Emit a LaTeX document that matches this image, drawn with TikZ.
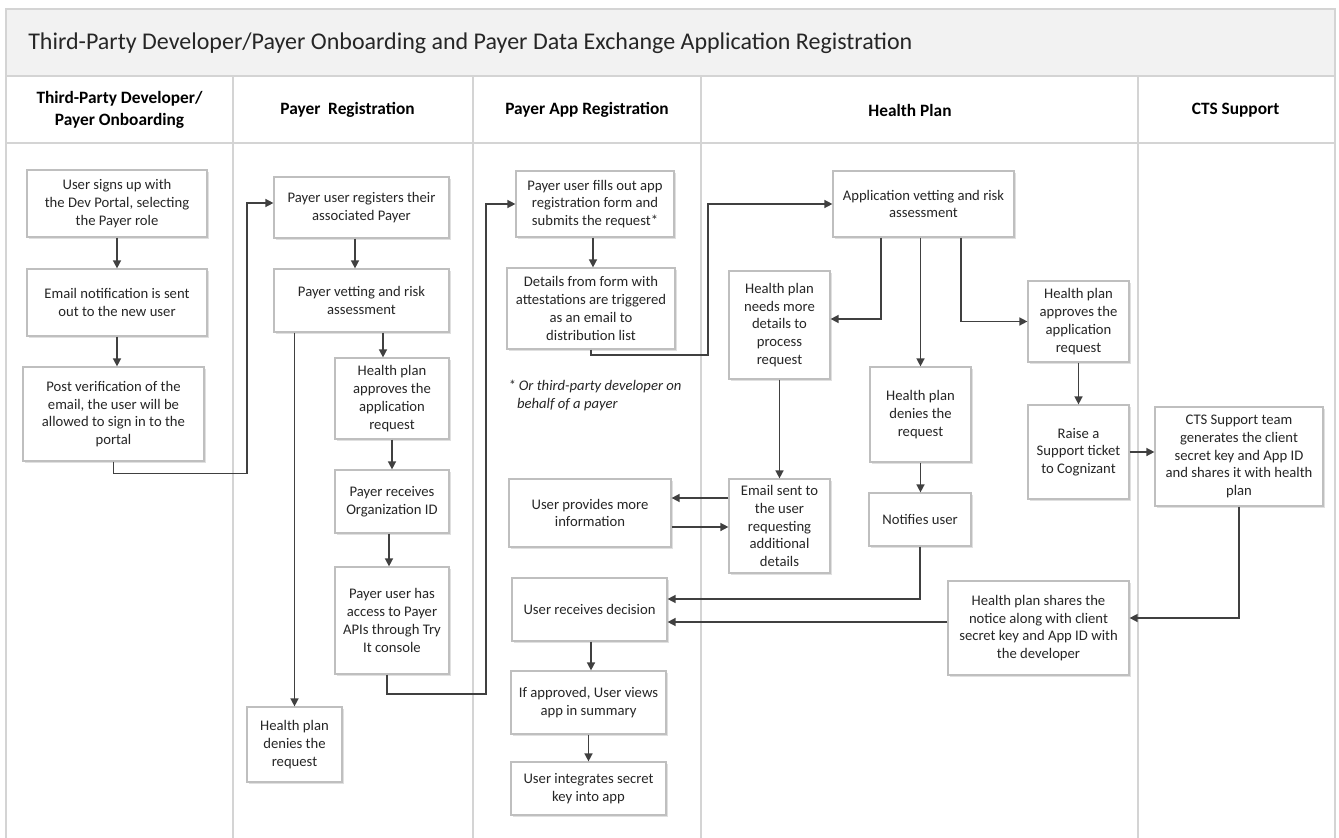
\documentclass[tikz,border=0pt]{standalone}
\usepackage{fontspec}
\setmainfont{Carlito}
\usetikzlibrary{arrows.meta}
\usetikzlibrary{shadows}

\definecolor{lanegray}{HTML}{D4D4D4}
\definecolor{boxgray}{HTML}{BFBFBF}
\definecolor{titlefill}{HTML}{F2F2F2}
\definecolor{linkgray}{HTML}{404040}
\definecolor{textgray}{HTML}{262626}

\begin{document}
\begin{tikzpicture}[x=0.75pt, y=-0.75pt,
    box/.style 2 args={draw=boxgray, fill=white, line width=0.9pt, align=center, inner sep=0pt,
        minimum width=#1*0.75pt, minimum height=#2*0.75pt, text=textgray,
        font=\fontsize{11}{13.3}\selectfont,
        drop shadow={shadow xshift=1.2pt, shadow yshift=-1.2pt, fill=black, opacity=0.12}},
    link/.style={draw=linkgray, line width=1.1pt, -{Triangle[length=6pt, width=6pt]}},
    lane/.style={draw=lanegray, line width=1.5pt},
    lanehead/.style={font=\fontsize{13}{16.5}\selectfont\bfseries, align=center, text=black}]

    \useasboundingbox (0,0) rectangle (1339,838);

    % swimlane frame
    \fill[titlefill] (6,9) rectangle (1335,76);
    \draw[lane] (6,838) -- (6,9) -- (1335,9) -- (1335,838);
    \draw[lane] (6,76) -- (1335,76);
    \draw[lane] (6,143) -- (1335,143);
    \foreach \x in {233,473,701,1138}
        \draw[lane] (\x,76) -- (\x,838);

    \node[anchor=west, inner sep=0pt, font=\fontsize{18}{21}\selectfont, text=textgray] (title) at (28,43)
        {Third-Party Developer/Payer Onboarding and Payer Data Exchange Application Registration};

    \node[lanehead] (h1) at (119.5,110) {Third-Party Developer/\\Payer Onboarding};
    \node[lanehead] (h2) at (347.5,110) {Payer\ \ Registration};
    \node[lanehead] (h3) at (587,110) {Payer App Registration};
    \node[lanehead] (h4) at (910,110) {Health Plan};
    \node[lanehead] (h5) at (1235.5,110) {CTS Support};

    % onboarding
    \node[box={180}{67}] (a1) at (117,203.5) {User signs up with\\the Dev Portal, selecting\\the Payer role};
    \node[box={180}{67}] (a2) at (117,302.5) {Email notification is sent\\out to the new user};
    \node[box={181}{94}] (a3) at (113.5,414) {Post verification of the\\email, the user will be\\allowed to sign in to the\\portal};

    % payer registration
    \node[box={175}{61}] (b1) at (361.5,207.5) {Payer user registers their\\associated Payer};
    \node[box={175}{63}] (b2) at (361.5,300.5) {Payer vetting and risk\\assessment};
    \node[box={114}{81}] (b3) at (392,398.5) {Health plan\\approves the\\application\\request};
    \node[box={114}{63}] (b4) at (392,501.5) {Payer receives\\Organization ID};
    \node[box={114}{107}] (b5) at (392,620.5) {Payer user has\\access to Payer\\APIs through Try\\It console};
    \node[box={95}{75}] (bd) at (294.5,744.5) {Health plan\\denies the\\request};

    % payer app registration
    \node[box={158}{66}] (c1) at (595,204) {Payer user fills out app\\registration form and\\submits the request*};
    \node[box={168}{81}] (c2) at (591,308.5) {Details from form with\\attestations are triggered\\as an email to\\distribution list};
    \node[anchor=north west, align=left, inner sep=0pt, text=textgray, font=\fontsize{11}{13.3}\selectfont\itshape] (note) at (508,380)
        {* Or third-party developer on\\\hspace{0.6em}behalf of a payer};
    \node[box={162}{68}] (c3) at (590,513) {User provides more\\information};
    \node[box={155}{63}] (c4) at (589.5,609.5) {User receives decision};
    \node[box={155}{63}] (c5) at (588.5,702.5) {If approved, User views\\app in summary};
    \node[box={155}{53}] (c6) at (588.5,788.5) {User integrates secret\\key into app};

    % health plan
    \node[box={181}{66}] (d1) at (923.5,204) {Application vetting and risk\\assessment};
    \node[box={101}{108}] (d2) at (779.5,325) {Health plan\\needs more\\details to\\process\\request};
    \node[box={101}{95}] (d3) at (920.5,414.5) {Health plan\\denies the\\request};
    \node[box={101}{81}] (d4) at (1078.5,321.5) {Health plan\\approves the\\application\\request};
    \node[box={101}{94}] (d5) at (1078.5,452) {Raise a\\Support ticket\\to Cognizant};
    \node[box={101}{94}] (de) at (779.5,526) {Email sent to\\the user\\requesting\\additional\\details};
    \node[box={102}{53}] (d6) at (920,519.5) {Notifies user};
    \node[box={181}{94}] (d7) at (1038.5,628) {Health plan shares the\\notice along with client\\secret key and App ID with\\the developer};

    % cts support
    \node[box={168}{99}] (f1) at (1239,456.5) {CTS Support team\\generates the client\\secret key and App ID\\and shares it with health\\plan};

    % flow
    \draw[link] (a1) -- (a2);
    \draw[link] (a2.south) -- (a2.south |- a3.north);
    \draw[link] (a3.south) -- ++(0,12) -| (247,203) -- (b1.west |- 0,203);
    \draw[link] (b1.south -| 355,0) -- (b2.north -| 355,0);
    \draw[link] (b2.south -| 383,0) -- (b3.north -| 383,0);
    \draw[link] (b2.south -| bd.north) -- (bd.north);
    \draw[link] (b3) -- (b4);
    \draw[link] (b4.south -| 389,0) -- (b5.north -| 389,0);
    \draw[link] (b5.south -| 387,0) |- (486,694) |- (c1.west);
    \draw[link] (c1.south -| 593,0) -- (c2.north -| 593,0);
    \draw[link] (c2.south) |- (708,355) |- (d1.west);
    \draw[link] (d1.south -| 881,0) |- (d2.east |- 0,319);
    \draw[link] (d1.south -| d3.north) -- (d3.north);
    \draw[link] (d1.south -| 961,0) |- (d4.west);
    \draw[link] (d4) -- (d5);
    \draw[link] (d5.east) -- (d5.east -| f1.west);
    \draw[link] (f1.south) |- (d7.east |- 0,618);
    \draw[link] (d7.west |- 0,622) -- (c4.east |- 0,622);
    \draw[link] (d3.south) -- (d3.south |- d6.north);
    \draw[link] (d6.south) |- (c4.east |- 0,599);
    \draw[link] (d2) -- (de);
    \draw[link] (de.west |- 0,498) -- (c3.east |- 0,498);
    \draw[link] (c3.east |- 0,527) -- (de.west |- 0,527);
    \draw[link] (c4.south -| 591,0) -- (c5.north -| 591,0);
    \draw[link] (c5) -- (c6);
\end{tikzpicture}
\end{document}
